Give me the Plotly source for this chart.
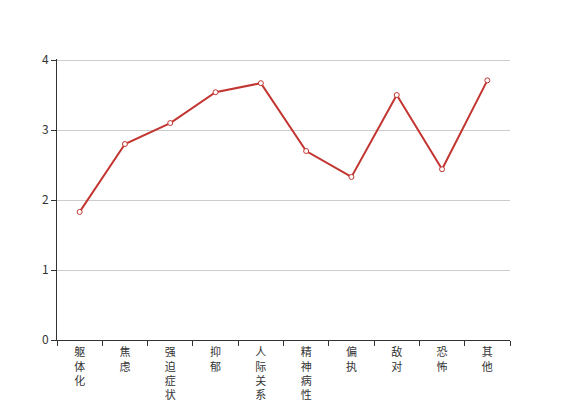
import plotly.graph_objects as go

categories = ["躯体化", "焦虑", "强迫症状", "抑郁", "人际关系敏感", "精神病性", "偏执", "敌对", "恐怖", "其他"]
values = [1.83, 2.80, 3.10, 3.54, 3.67, 2.70, 2.33, 3.50, 2.44, 3.71]
y_ticks = [0, 1, 2, 3, 4]

tick_text = ["<br>".join(list(c)) for c in categories]

fig = go.Figure()
fig.add_trace(go.Scatter(
    x=categories, y=values, mode="lines+markers",
    line=dict(color="#c23531", width=2),
    marker=dict(symbol="circle", size=5, color="#ffffff", line=dict(color="#c23531", width=1)),
    cliponaxis=False, showlegend=False, hoverinfo="skip",
))

fig.update_layout(
    width=567, height=400,
    margin=dict(l=57, r=57, t=59, b=60),
    paper_bgcolor="#ffffff", plot_bgcolor="#ffffff",
    font=dict(family="Noto Sans CJK SC, sans-serif", size=12, color="#333333"),
    xaxis=dict(
        type="category", tickmode="array", tickvals=categories, ticktext=tick_text,
        tickson="boundaries", ticks="outside", ticklen=5, tickcolor="#333333",
        showline=True, linecolor="#333333", linewidth=1, showgrid=False,
        tickfont=dict(size=11, color="#333333"), tickangle=0,
        ticklabelstandoff=2,
        range=[-0.5, 9.5], automargin=False,
    ),
    yaxis=dict(
        range=[0, 4.015], tickvals=y_ticks, ticks="outside", ticklen=5, tickcolor="#333333",
        showline=True, linecolor="#333333", linewidth=1,
        showgrid=True, gridcolor="#cccccc", gridwidth=1, zeroline=False,
        tickfont=dict(size=12, color="#333333"), automargin=False,
    ),
)

fig.write_html("out.html", config={"displayModeBar": False, "staticPlot": True},
               post_script="document.body.style.margin='0';document.body.style.overflow='hidden';")
